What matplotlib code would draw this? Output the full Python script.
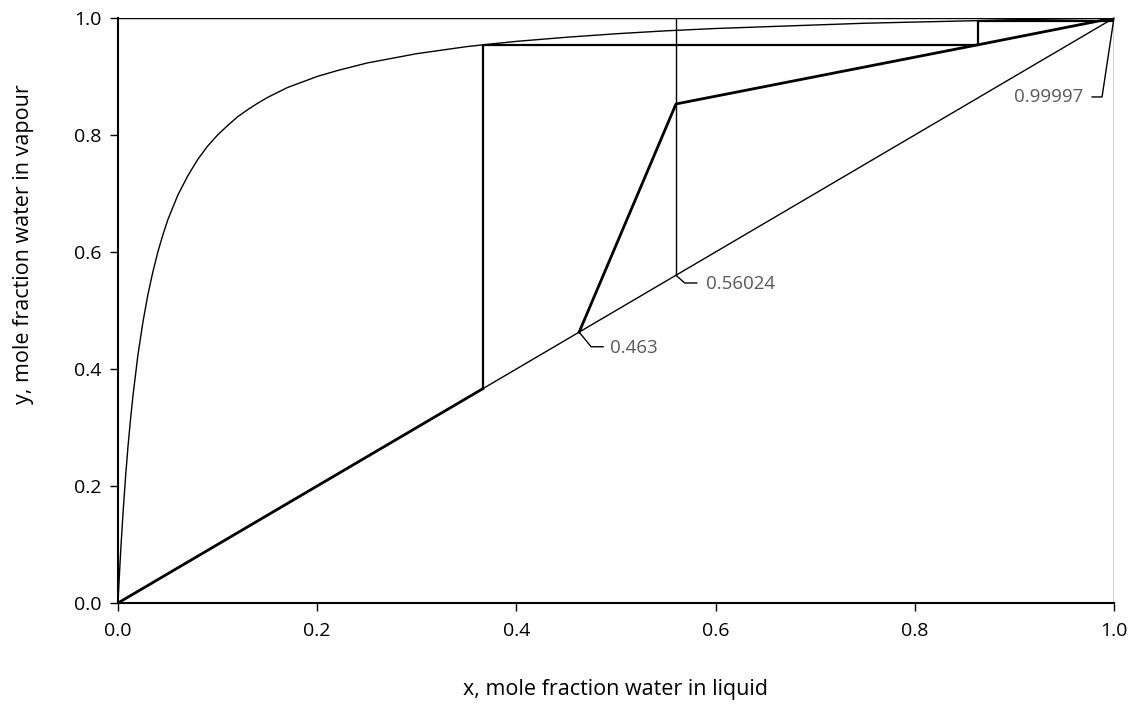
import matplotlib
matplotlib.use("Agg")
import matplotlib.pyplot as plt

# equilibrium curve, points
eq_x = [0.0, 0.001, 0.002, 0.003, 0.005, 0.0075, 0.01, 0.0125, 0.015, 0.02, 0.025,
        0.03, 0.035, 0.04, 0.045, 0.05, 0.06, 0.07, 0.08, 0.09, 0.10, 0.11, 0.12,
        0.13, 0.14, 0.15, 0.17, 0.20, 0.22, 0.25, 0.30, 0.35, 0.366, 0.40, 0.45,
        0.50, 0.55, 0.60, 0.65, 0.70, 0.75, 0.80, 0.863, 0.90, 0.95, 1.0]
eq_y = [0.0, 0.035, 0.067, 0.098, 0.153, 0.214, 0.267, 0.313, 0.354, 0.424, 0.480,
        0.527, 0.566, 0.600, 0.629, 0.655, 0.697, 0.730, 0.758, 0.781, 0.800, 0.816, 0.831,
        0.843, 0.854, 0.864, 0.881, 0.900, 0.910, 0.923, 0.939, 0.951, 0.954, 0.960, 0.967,
        0.973, 0.978, 0.982, 0.985, 0.988, 0.991, 0.993, 0.9954, 0.997, 0.9985, 1.0]

# operating lines (thick)
op_x = [0.0, 0.366]
op_y = [0.0, 0.366]
op2_x = [0.463, 0.56024, 0.863, 0.99997]
op2_y = [0.463, 0.853, 0.954, 1.0]

# stage steps
step_x = [0.366, 0.366, 0.863, 0.863, 0.99997]
step_y = [0.366, 0.954, 0.954, 0.9954, 0.9954]

# feed line at x = 0.56024
feed_x = [0.56024, 0.56024]
feed_y = [0.56024, 1.0]

# point labels: (text, point, elbow, end of leader, text position, alignment)
labels = ["0.463", "0.56024", "0.99997"]
lab_pt = [(0.463, 0.463), (0.56024, 0.56024), (0.99997, 1.0)]
lab_elbow = [(0.475, 0.438), (0.569, 0.547), (0.988, 0.865)]
lab_end = [(0.487, 0.438), (0.581, 0.547), (0.978, 0.865)]
lab_txt = [(0.494, 0.436), (0.590, 0.545), (0.969, 0.865)]
lab_ha = ["left", "left", "right"]

plt.rcParams["font.family"] = ["Open Sans", "DejaVu Sans"]

fig = plt.figure(figsize=(11.38, 7.13), dpi=100)
ax = fig.add_axes([0.1037, 0.1543, 0.8752, 0.8205])

ax.plot([0, 1], [0, 1], color="black", lw=1.0)
ax.plot(eq_x, eq_y, color="black", lw=1.0)
ax.plot(feed_x, feed_y, color="black", lw=1.0)
ax.plot([0, 1], [1, 1], color="black", lw=1.0)
ax.plot([1, 1], [0, 1], color="black", lw=1.0)
ax.plot(step_x, step_y, color="black", lw=1.6)
ax.plot(op_x, op_y, color="black", lw=2.0)
ax.plot(op2_x, op2_y, color="black", lw=2.0)

for t, p, e, n, tp, ha in zip(labels, lab_pt, lab_elbow, lab_end, lab_txt, lab_ha):
    ax.plot([p[0], e[0], n[0]], [p[1], e[1], n[1]], color="black", lw=1.0, clip_on=False)
    ax.text(tp[0], tp[1], t, ha=ha, va="center", fontsize=13.5, color="#595959")

ax.set_xlim(0, 1)
ax.set_ylim(0, 1)
ax.set_xticks([0, 0.2, 0.4, 0.6, 0.8, 1.0])
ax.set_yticks([0, 0.2, 0.4, 0.6, 0.8, 1.0])
ax.xaxis.set_major_formatter(matplotlib.ticker.FormatStrFormatter("%.1f"))
ax.yaxis.set_major_formatter(matplotlib.ticker.FormatStrFormatter("%.1f"))
ax.tick_params(direction="out", length=6, width=1.0, labelsize=14, pad=6)
ax.tick_params(axis="x", pad=8)
for s in ["top", "right"]:
    ax.spines[s].set_visible(False)
for s in ["left", "bottom"]:
    ax.spines[s].set_linewidth(1.5)

ax.set_xlabel("x, mole fraction water in liquid", fontsize=15.5, va="center")
ax.set_ylabel("y, mole fraction water in vapour", fontsize=15.5, va="center")
ax.xaxis.set_label_coords(0.5, -0.148)
ax.yaxis.set_label_coords(-0.095, 0.614)

fig.savefig("out.png", dpi=100)
